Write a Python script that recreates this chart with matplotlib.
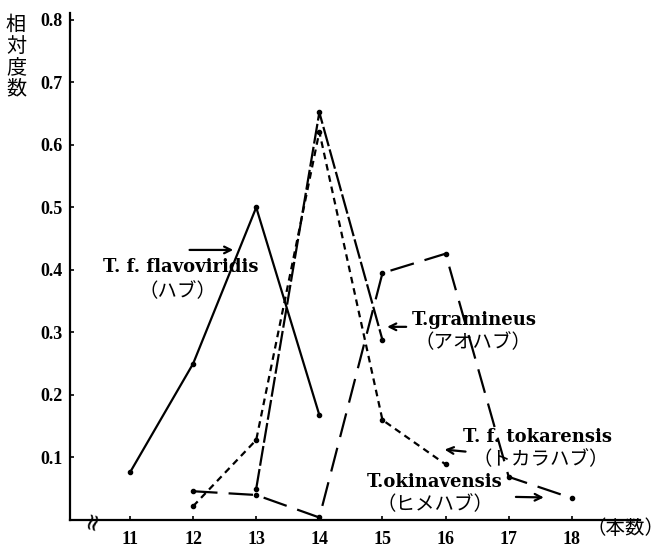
import matplotlib
matplotlib.use("Agg")
import matplotlib.pyplot as plt

# ---- data ----
flavo_x = [11, 12, 13, 14]
flavo_y = [0.076, 0.25, 0.50, 0.168]

gram_x = [13, 14, 15]
gram_y = [0.05, 0.652, 0.288]

toka_x = [12, 13, 14, 15, 16]
toka_y = [0.022, 0.128, 0.621, 0.16, 0.089]

okina_x = [12, 13, 14, 15, 16, 17, 18]
okina_y = [0.046, 0.04, 0.004, 0.395, 0.426, 0.069, 0.035]

xticks = [11, 12, 13, 14, 15, 16, 17, 18]
yticks = [0.1, 0.2, 0.3, 0.4, 0.5, 0.6, 0.7, 0.8]
ytick_labels = ["0.1", "0.2", "0.3", "0.4", "0.5", "0.6", "0.7", "0.8"]

SERIF = ["Liberation Serif", "DejaVu Serif"]
LAB = ["DejaVu Serif"]
JP = ["Noto Sans CJK JP", "DejaVu Sans"]

fig = plt.figure(figsize=(6.7, 5.5), dpi=100)
ax = fig.add_axes([70 / 670, 30 / 550, 570 / 670, 507 / 550])
ax.set_xlim(10.05, 19.08)
ax.set_ylim(0, 0.811)

k = "black"
ax.plot(flavo_x, flavo_y, color=k, lw=1.6, marker="o", ms=3)
ax.plot(gram_x, gram_y, color=k, lw=1.6, marker="o", ms=3, dashes=(9, 1.5))
ax.plot(toka_x, toka_y, color=k, lw=1.6, marker="o", ms=3, dashes=(3, 2.2))
ax.plot(okina_x, okina_y, color=k, lw=1.6, marker="o", ms=3, dashes=(11, 5))

for s in ["top", "right"]:
    ax.spines[s].set_visible(False)
for s in ["left", "bottom"]:
    ax.spines[s].set_linewidth(1.6)

ax.set_xticks(xticks)
ax.set_xticklabels([str(v) for v in xticks], fontfamily=SERIF, fontweight="bold", fontsize=13)
ax.set_yticks(yticks)
ax.set_yticklabels(ytick_labels, fontfamily=SERIF, fontweight="bold", fontsize=13)
ax.tick_params(axis="both", direction="in", length=3, width=1.2)
ax.tick_params(axis="y", pad=5)
ax.tick_params(axis="x", pad=8)

# axis break mark on x axis
ax.text(10.42, 0.0, "≈", rotation=75, ha="center", va="center", fontsize=17,
        fontfamily=["DejaVu Sans"], clip_on=False)

# y label (vertical stacked)
fig.text(16 / 670, 1 - 57 / 550, "相\n対\n度\n数", ha="center", va="center",
         fontfamily=JP, fontsize=14.5, linespacing=1.02)
# x unit
fig.text(625 / 670, 1 - 528 / 550, "（本数）", ha="center", va="center",
         fontfamily=JP, fontsize=14)

# annotations
def label(x, y, latin, jp, jx, jy):
    ax.text(x, y, latin, ha="center", va="center", fontfamily=LAB,
            fontweight="bold", fontsize=13)
    ax.text(jx, jy, jp, ha="center", va="center", fontfamily=JP, fontsize=14)

label(11.81, 0.405, "T. f. flavoviridis", "（ハブ）", 11.76, 0.366)
label(16.45, 0.32, "T.gramineus", "（アオハブ）", 16.44, 0.283)
label(17.45, 0.133, "T. f. tokarensis", "（トカラハブ）", 17.5, 0.096)
label(15.82, 0.061, "T.okinavensis", "（ヒメハブ）", 15.84, 0.024)

arrow = dict(arrowstyle="->", lw=1.6, color=k, mutation_scale=12)
ax.annotate("", xy=(12.68, 0.432), xytext=(11.9, 0.432), arrowprops=arrow)
ax.annotate("", xy=(15.03, 0.309), xytext=(15.42, 0.309), arrowprops=arrow)
ax.annotate("", xy=(15.94, 0.113), xytext=(16.36, 0.109), arrowprops=arrow)
ax.annotate("", xy=(17.6, 0.036), xytext=(17.07, 0.037), arrowprops=arrow)

fig.savefig("out.png", dpi=100)
